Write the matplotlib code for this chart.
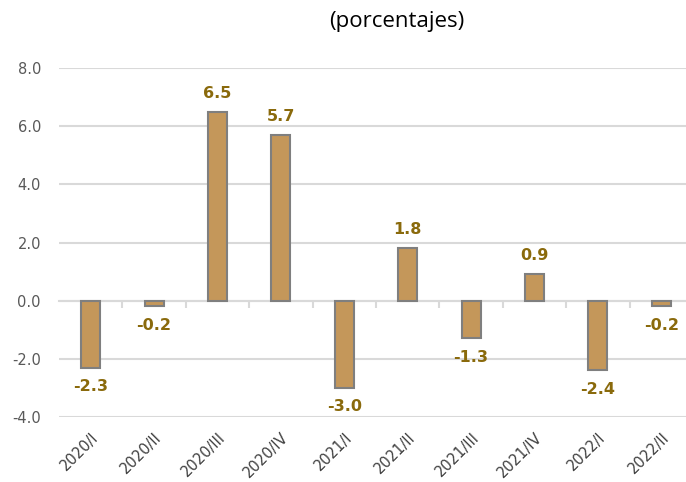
import numpy as np
import matplotlib.pyplot as plt

# data
quarters = ['2020/I', '2020/II', '2020/III', '2020/IV', '2021/I', '2021/II',
            '2021/III', '2021/IV', '2022/I', '2022/II']
values = [-2.3, -0.2, 6.5, 5.7, -3.0, 1.8, -1.3, 0.9, -2.4, -0.2]

fig = plt.figure(figsize=(6.86, 4.82), dpi=100)
ax = fig.add_axes([59/686, 65/482, 634/686, 349/482])

x = np.arange(len(quarters))
ax.bar(x, values, width=0.3, color='#C4975A', edgecolor='#7F7F7F', linewidth=1.5, zorder=3)

# value labels
for xi, v in zip(x, values):
    off = 8 if v >= 0 else -8
    ax.annotate(f'{v:.1f}', (xi, v), textcoords='offset points', xytext=(0, off),
                ha='center', va='bottom' if v >= 0 else 'top',
                fontsize=11.5, fontweight='bold', color='#8A6A0C')

ax.set_ylim(-4, 8)
ax.set_xlim(-0.5, len(quarters) - 0.5)
ax.set_yticks(np.arange(-4, 8.1, 2))
ax.set_yticklabels([f'{t:.1f}' for t in np.arange(-4, 8.1, 2)])
ax.set_xticks(x)
ax.set_xticklabels(quarters, rotation=45, ha='right', rotation_mode='anchor')

ax.grid(axis='y', color='#D9D9D9', linewidth=1.5, zorder=0)
for s in ax.spines.values():
    s.set_visible(False)
ax.tick_params(axis='y', length=0, pad=13, labelsize=10.5, labelcolor='#595959')
ax.tick_params(axis='x', length=0, pad=9, labelsize=10.5, labelcolor='#404040')

# category axis line at zero with boundary ticks
zero_ax = ax.secondary_xaxis(4/12)
zero_ax.set_xticks(x[:-1] + 0.5)
zero_ax.set_xticklabels([])
zero_ax.tick_params(length=5, width=1.5, color='#D9D9D9', direction='out')
zero_ax.spines['bottom'].set_color('#D9D9D9')
zero_ax.spines['bottom'].set_linewidth(1.5)
zero_ax.set_zorder(1)

fig.text(397/686, 1 - 22/482, '(porcentajes)', ha='center', va='center',
         fontsize=16, family='Open Sans', color='#000000')

plt.savefig('out.png', dpi=100)
